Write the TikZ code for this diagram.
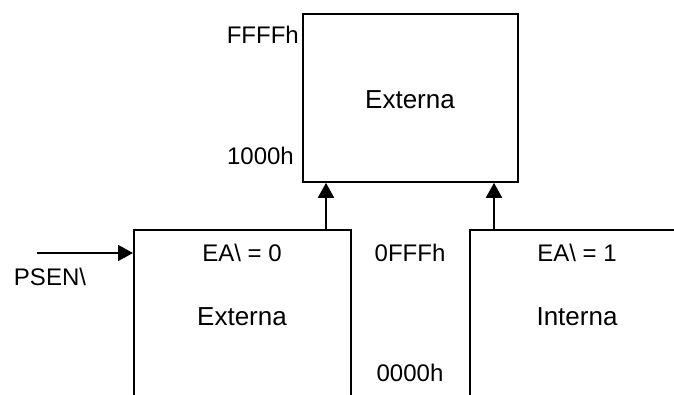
\documentclass[tikz,border=0pt]{standalone}
\usepackage{fontspec}
\setmainfont{Liberation Sans}
\usetikzlibrary{arrows.meta}
\begin{document}
\begin{tikzpicture}[x=1pt,y=-1pt,
  box/.style={draw=black,line width=1.8pt,rectangle,inner sep=0pt,anchor=north west},
  big/.style={font=\fontsize{26}{30}\selectfont,inner sep=0pt},
  small/.style={font=\fontsize{24}{28}\selectfont,inner sep=0pt},
  conn/.style={line width=1.8pt,-{Triangle[length=15pt,width=16pt]}}]
\clip (0,0) rectangle (674,394);
\fill[white] (0,0) rectangle (674,394);
% top box
\node[box,minimum width=215pt,minimum height=168pt] (top) at (302,13) {};
\node[big] (topt) at (410,100) {Externa};
\node[small,anchor=east] (ffff) at (299,35) {FFFFh};
\node[small,anchor=east] (k1000) at (294,156) {1000h};
% bottom-left box
\node[box,minimum width=217pt,minimum height=220pt] (left) at (133,229) {};
\node[small] (ea0) at (242,253) {EA\textbackslash\ = 0};
\node[big] (ext) at (242,317) {Externa};
% bottom-right box
\node[box,minimum width=260pt,minimum height=220pt] (right) at (469,229) {};
\node[small] (ea1) at (577,253) {EA\textbackslash\ = 1};
\node[big] (int) at (577,317) {Interna};
% address labels
\node[small] (offf) at (410,253) {0FFFh};
\node[small] (z0000) at (410,373) {0000h};
% PSEN
\coordinate (ps) at (37,253);
\coordinate (psin) at (133,253);
\draw[conn] (ps) -- (psin);
\node[small] (psen) at (50,277) {PSEN\textbackslash};
% connectors
\coordinate (a1) at (326,229);
\coordinate (a2) at (494,229);
\draw[conn] (a1) -- (a1 |- top.south);
\draw[conn] (a2) -- (a2 |- top.south);
\end{tikzpicture}
\end{document}
